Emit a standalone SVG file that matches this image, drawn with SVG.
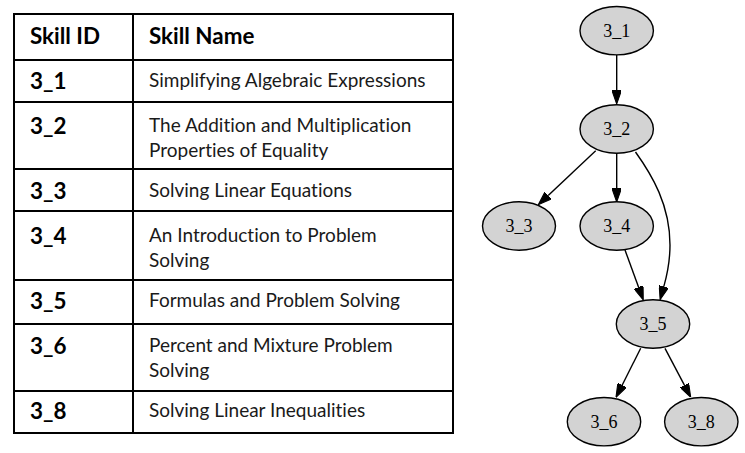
<svg xmlns="http://www.w3.org/2000/svg" width="745" height="453" viewBox="0 0 745 453">
<style>
.grid{stroke:#000;stroke-width:2;fill:none}
.hd{font-family:Lato,"Open Sans","Liberation Sans",sans-serif;font-weight:bold;font-size:22.4px;fill:#000}
.tx{font-family:Lato,"Open Sans","Liberation Sans",sans-serif;font-size:19px;fill:#1a1a1a;font-variant-ligatures:none}
.node ellipse{fill:#d3d3d3;stroke:#000;stroke-width:1.4}
.node text{font-family:"Liberation Serif","Times New Roman",serif;font-size:18px;text-anchor:middle;fill:#000}
.edge{stroke:#000;stroke-width:1.4;fill:none;marker-end:url(#ah)}
</style>
<defs>
<marker id="ah" viewBox="0 0 10 7" refX="0" refY="3.5" markerWidth="13.6" markerHeight="9.5" markerUnits="userSpaceOnUse" orient="auto">
<path d="M0,0 L10,3.5 L0,7 z" fill="#000" stroke="#000" stroke-width="0.8"/>
</marker>
</defs>
<rect width="745" height="453" fill="#fff"/>
<g id="table">
<rect class="grid" x="14" y="14" width="439" height="419"/>
<line class="grid" x1="133" y1="14" x2="133" y2="433"/>
<line class="grid" x1="14" y1="60" x2="453" y2="60"/>
<line class="grid" x1="14" y1="102" x2="453" y2="102"/>
<line class="grid" x1="14" y1="169" x2="453" y2="169"/>
<line class="grid" x1="14" y1="211" x2="453" y2="211"/>
<line class="grid" x1="14" y1="280" x2="453" y2="280"/>
<line class="grid" x1="14" y1="324" x2="453" y2="324"/>
<line class="grid" x1="14" y1="391" x2="453" y2="391"/>
<text class="hd" x="30" y="44">Skill ID</text>
<text class="hd" x="149" y="44">Skill Name</text>
<text class="hd" x="30" y="89">3_1</text>
<text class="tx" x="149" y="87">Simplifying Algebraic Expressions</text>
<text class="hd" x="30" y="134">3_2</text>
<text class="tx" x="149" y="132">The Addition and Multiplication</text>
<text class="tx" x="149" y="157">Properties of Equality</text>
<text class="hd" x="30" y="199">3_3</text>
<text class="tx" x="149" y="197">Solving Linear Equations</text>
<text class="hd" x="30" y="244">3_4</text>
<text class="tx" x="149" y="242">An Introduction to Problem</text>
<text class="tx" x="149" y="267">Solving</text>
<text class="hd" x="30" y="309">3_5</text>
<text class="tx" x="149" y="307">Formulas and Problem Solving</text>
<text class="hd" x="30" y="354">3_6</text>
<text class="tx" x="149" y="352">Percent and Mixture Problem</text>
<text class="tx" x="149" y="377">Solving</text>
<text class="hd" x="30" y="419">3_8</text>
<text class="tx" x="149" y="417">Solving Linear Inequalities</text>
</g>
<g id="edges">
<path class="edge" d="M616.7,55 L616.7,90.4"/>
<path class="edge" d="M595.7,150.7 L548.2,195.4"/>
<path class="edge" d="M616.7,153.3 L616.7,188.4"/>
<path class="edge" d="M635.5,152 C652,175 670,205 670,245 C670,258 668.5,270 663.8,286.6"/>
<path class="edge" d="M625,250 L638.6,287.2"/>
<path class="edge" d="M640.7,348.3 L622.1,385.2"/>
<path class="edge" d="M665,348.3 L684.4,385.2"/>
</g>
<g id="n3_1" class="node"><ellipse cx="616.7" cy="30.7" rx="36.7" ry="24.2"/><text x="616.7" y="37">3_1</text></g>
<g id="n3_2" class="node"><ellipse cx="616.7" cy="129" rx="36.7" ry="24.2"/><text x="616.7" y="135.3">3_2</text></g>
<g id="n3_3" class="node"><ellipse cx="519" cy="226" rx="36.5" ry="24.2"/><text x="519" y="232.3">3_3</text></g>
<g id="n3_4" class="node"><ellipse cx="616.7" cy="226" rx="36.7" ry="24.2"/><text x="616.7" y="232.3">3_4</text></g>
<g id="n3_5" class="node"><ellipse cx="653" cy="324" rx="36.7" ry="24.2"/><text x="653" y="330.3">3_5</text></g>
<g id="n3_6" class="node"><ellipse cx="604" cy="421.7" rx="36.7" ry="24.2"/><text x="604" y="428">3_6</text></g>
<g id="n3_8" class="node"><ellipse cx="701.3" cy="421.7" rx="36.7" ry="24.2"/><text x="701.3" y="428">3_8</text></g>
</svg>
